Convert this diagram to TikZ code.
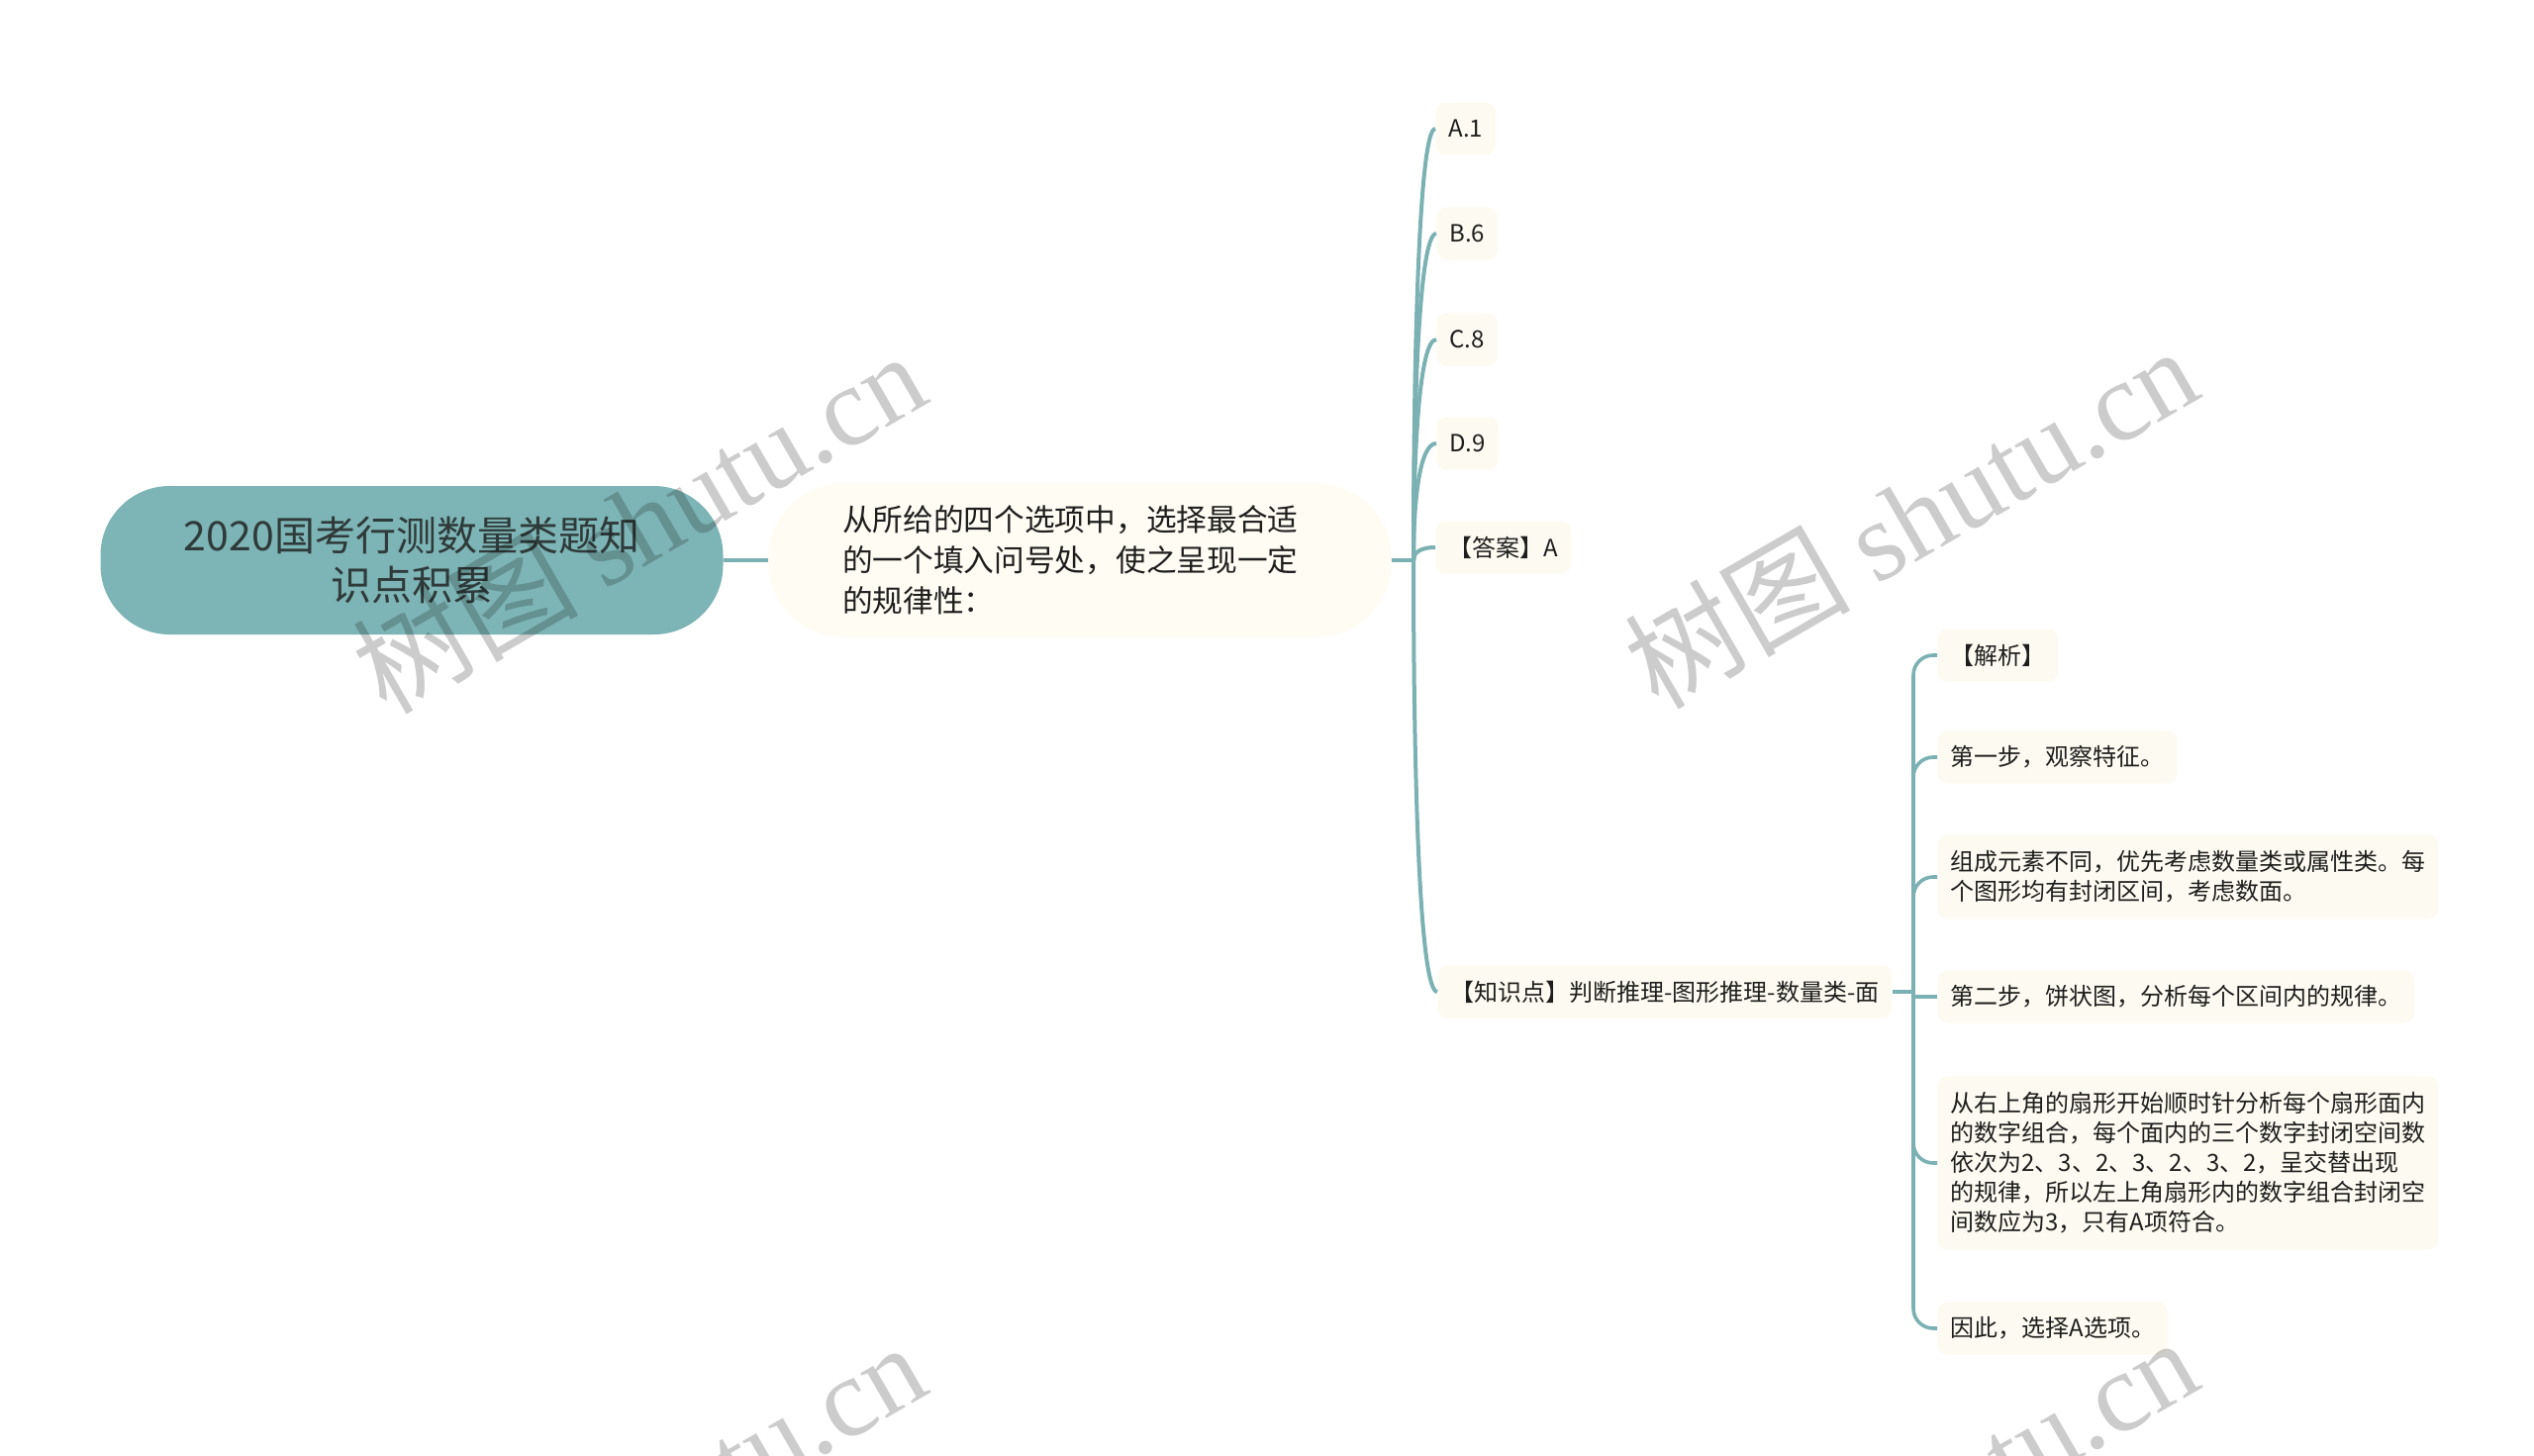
\documentclass[tikz,border=0pt]{standalone}
\usepackage{fontspec}
\setmainfont{Noto Sans CJK SC}
\newfontfamily\wmlatin{Liberation Serif}
\newfontfamily\wmcjk{Noto Sans CJK SC}
\definecolor{rootfill}{HTML}{7DB4B5}
\definecolor{linec}{HTML}{7BB1B3}
\definecolor{boxfill}{HTML}{FDFBF1}
\definecolor{midfill}{HTML}{FEFCF3}
\definecolor{txt}{HTML}{1E1E1E}
\definecolor{roottxt}{HTML}{2F3A3A}
\begin{document}
\begin{tikzpicture}[x=0.5pt,y=-0.5pt,
  conn/.style={draw=linec, line width=2pt},
  conn2/.style={draw=linec, line width=1.8pt},
  rootbox/.style={fill=rootfill, rounded corners=35pt, minimum width=314.5pt, minimum height=75pt,
    inner sep=0pt, align=center, text=roottxt, font=\fontsize{20.5pt}{25pt}\selectfont},
  midbox/.style={fill=midfill, rounded corners=38pt, text width=240pt, inner xsep=37.5pt,
    minimum height=77.5pt, align=left, text=txt, font=\fontsize{15.35pt}{20.5pt}\selectfont},
  leaf/.style={fill=boxfill, rounded corners=5pt, inner xsep=6.5pt, inner ysep=0pt,
    minimum height=26.5pt, font=\fontsize{12pt}{15pt}\selectfont, text=txt, align=left, anchor=west},
  wm/.style={text=black, opacity=0.2, rotate=30, font=\fontsize{57pt}{65pt}\selectfont}
]
\useasboundingbox (0,0) rectangle (2560,1471);
\fill[white] (0,0) rectangle (2560,1471);

% main nodes
\node[rootbox] (root) at (416,566) {2020国考行测数量类题知\\识点积累};
\node[midbox] (q) at (1091,566) {从所给的四个选项中，选择最合适\\的一个填入问号处，使之呈现一定\\的规律性：};

% first level children
\node[leaf] (a) at (1450,130) {A.1};
\node[leaf] (b) at (1451,236) {B.6};
\node[leaf] (c) at (1451,343) {C.8};
\node[leaf] (d) at (1451,448) {D.9};
\node[leaf] (ans) at (1450,553) {【答案】A};
\node[leaf] (k) at (1452,1002) {【知识点】判断推理-图形推理-数量类-面};

% second level children
\node[leaf] (s1) at (1957,662) {【解析】};
\node[leaf] (s2) at (1957,765) {第一步，观察特征。};
\node[leaf, minimum height=42.5pt] (s3) at (1957,886) {组成元素不同，优先考虑数量类或属性类。每\\个图形均有封闭区间，考虑数面。};
\node[leaf] (s4) at (1957,1007) {第二步，饼状图，分析每个区间内的规律。};
\node[leaf, minimum height=87.5pt] (s5) at (1957,1175) {从右上角的扇形开始顺时针分析每个扇形面内\\的数字组合，每个面内的三个数字封闭空间数\\依次为2、3、2、3、2、3、2，呈交替出现\\的规律，所以左上角扇形内的数字组合封闭空\\间数应为3，只有A项符合。};
\node[leaf] (s6) at (1957,1342) {因此，选择A选项。};

% connectors
\coordinate (t1) at (1428,566);
\coordinate (t2) at (1933,1002);
\draw[conn] (root.east) -- (q.west);
\draw[conn] (q.east) -- (t1);
\draw[conn] (t1) .. controls (1428,348) and (1434,130) .. (a.west);
\draw[conn] (t1) .. controls (1428,401) and (1434,236) .. (b.west);
\draw[conn] (t1) .. controls (1428,454) and (1434,343) .. (c.west);
\draw[conn] (t1) .. controls (1428,507) and (1434,448) .. (d.west);
\draw[conn] (t1) .. controls (1428,559) and (1434,553) .. (ans.west);
\draw[conn] (t1) .. controls (1428,784) and (1434,1002) .. (k.west);

\draw[conn2] (k.east) -- (t2);
\draw[conn2, rounded corners=10pt] (t2) -- (t2 |- s1.west) -- (s1.west);
\draw[conn2, rounded corners=10pt] (t2) -- (t2 |- s2.west) -- (s2.west);
\draw[conn2, rounded corners=10pt] (t2) -- (t2 |- s3.west) -- (s3.west);
\draw[conn2] (t2) -- (t2 |- s4.west) -- (s4.west);
\draw[conn2, rounded corners=10pt] (t2) -- (t2 |- s5.west) -- (s5.west);
\draw[conn2, rounded corners=10pt] (t2) -- (t2 |- s6.west) -- (s6.west);

% watermarks
\begin{scope}
\clip (0,0) rectangle (2560,1471);
\node[wm] (w1) at (645,527) {{\wmcjk 树图} {\wmlatin shutu.cn}};
\node[wm] (w2) at (1930,522) {{\wmcjk 树图} {\wmlatin shutu.cn}};
\node[wm] (w3) at (645,1528) {{\wmcjk 树图} {\wmlatin shutu.cn}};
\node[wm] (w4) at (1930,1523) {{\wmcjk 树图} {\wmlatin shutu.cn}};
\end{scope}
\end{tikzpicture}
\end{document}
